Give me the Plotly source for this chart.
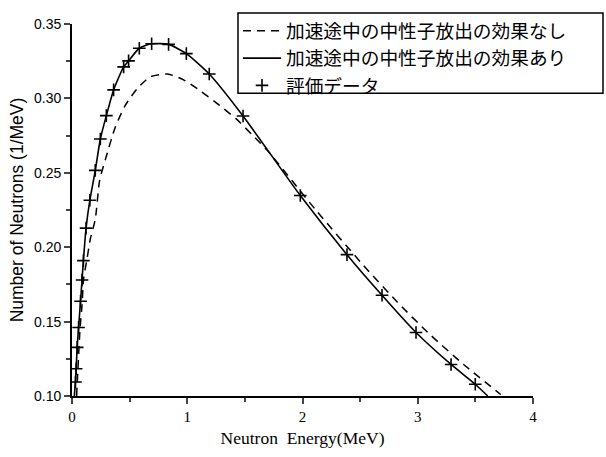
import plotly.graph_objects as go

# Dashed curve: without neutron emission during acceleration
dash_E = [0.04, 0.07, 0.087, 0.101, 0.13, 0.159, 0.202, 0.24, 0.29, 0.376, 0.462, 0.564,
          0.679, 0.83, 0.968, 1.12, 1.28, 1.425, 1.56, 1.692, 2.111, 2.53, 2.82, 3.109, 3.398, 3.72]
dash_N = [0.100, 0.1456, 0.161, 0.179, 0.192, 0.2055, 0.2188, 0.245, 0.259, 0.2808, 0.2953, 0.3064,
          0.3145, 0.3164, 0.3125, 0.3047, 0.2953, 0.2862, 0.2758, 0.2653, 0.2254, 0.1877, 0.1633, 0.1411, 0.1212, 0.1010]

# Solid curve: with neutron emission during acceleration
solid_E = [0.02, 0.03, 0.036, 0.045, 0.057, 0.074, 0.087, 0.099, 0.122, 0.155, 0.202, 0.246,
           0.298, 0.361, 0.448, 0.491, 0.584, 0.691, 0.838, 0.992, 1.191, 1.484, 1.981,
           2.386, 2.69, 2.985, 3.289, 3.499, 3.607]
solid_N = [0.100, 0.1094, 0.1183, 0.1327, 0.146, 0.1637, 0.178, 0.191, 0.2128, 0.2316, 0.2516, 0.2727,
           0.2884, 0.3057, 0.3212, 0.3252, 0.3337, 0.3367, 0.3363, 0.3301, 0.3164, 0.2882, 0.2347,
           0.195, 0.1677, 0.1427, 0.1212, 0.1079, 0.100]

# Evaluated data (+ markers)
eval_E = solid_E[1:-1]
eval_N = solid_N[1:-1]

legend_names = ["加速途中の中性子放出の効果なし", "加速途中の中性子放出の効果あり", "評価データ"]

fig = go.Figure()
fig.add_trace(go.Scatter(x=dash_E, y=dash_N, mode="lines", name=legend_names[0],
                         line=dict(color="black", width=1.5, dash="8px,6px", shape="spline", smoothing=0.6)))
fig.add_trace(go.Scatter(x=solid_E, y=solid_N, mode="lines", name=legend_names[1],
                         line=dict(color="black", width=1.6, shape="spline", smoothing=0.6)))
fig.add_trace(go.Scatter(x=eval_E, y=eval_N, mode="markers", name=legend_names[2],
                         marker=dict(symbol="cross-thin", size=9, color="black",
                                     line=dict(color="black", width=1.6))))

L, R, T, B = 72, 73, 23, 58
W, H = 606, 457
pw, ph = W - L - R, H - T - B

def px(x):
    return (x - L) / pw

def py(y):
    return (H - B - y) / ph

fig.update_layout(
    width=W, height=H,
    margin=dict(l=L, r=R, t=T, b=B),
    paper_bgcolor="white", plot_bgcolor="white",
    font=dict(family="Liberation Sans", color="black", size=14),
    showlegend=True,
    legend=dict(x=px(238), y=py(11), xanchor="left", yanchor="top",
                bgcolor="rgba(0,0,0,0)", borderwidth=0,
                font=dict(family="Noto Sans CJK JP", size=18.7, color="black"),
                itemwidth=38, tracegroupgap=0),
    shapes=[dict(type="rect", xref="paper", yref="paper",
                 x0=px(238), x1=px(603), y0=py(93), y1=py(12),
                 line=dict(color="black", width=1.5))],
)
fig.update_xaxes(range=[0, 4], tickvals=[0, 1, 2, 3, 4], ticks="outside", ticklen=6, tickwidth=1.5,
                 showline=True, linecolor="black", linewidth=1.8, showgrid=False, zeroline=False,
                 minor=dict(dtick=0.5, tick0=0, ticks="outside", ticklen=4, tickwidth=1.5),
                 tickfont=dict(family="Liberation Serif", size=15),
                 title=dict(text="Neutron  Energy(MeV)", font=dict(family="Liberation Serif", size=17.5), standoff=8))
fig.update_yaxes(range=[0.10, 0.35], tickvals=[0.10, 0.15, 0.20, 0.25, 0.30, 0.35], tickformat=".2f",
                 ticks="outside", ticklen=6, tickwidth=1.5,
                 showline=True, linecolor="black", linewidth=1.8, showgrid=False, zeroline=False,
                 minor=dict(dtick=0.025, tick0=0.1, ticks="outside", ticklen=4, tickwidth=1.5),
                 tickfont=dict(family="Liberation Sans", size=14),
                 title=dict(text="Number of Neutrons (1/MeV)", font=dict(family="Liberation Sans", size=17.5), standoff=6))

fig.write_html("out.html")
